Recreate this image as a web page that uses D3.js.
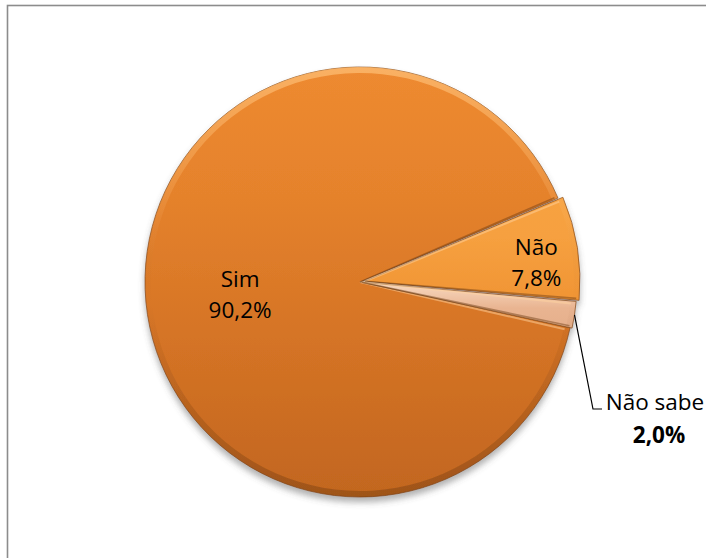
<!DOCTYPE html>
<html>
<head>
<meta charset="utf-8">
<script src="https://cdn.jsdelivr.net/npm/d3@7"></script>
<style>
  html, body { margin: 0; padding: 0; background: #ffffff; overflow: hidden; }
  svg { display: block; }
  text { font-family: "Open Sans", "Liberation Sans", sans-serif; fill: #000; }
</style>
</head>
<body>
<svg id="chart" width="706" height="558"></svg>
<script>
// Survey answers and their shares (percent)
const categories = ["Sim", "Não", "Não sabe"];
const values = [90.2, 7.8, 2.0];
const valueLabels = ["90,2%", "7,8%", "2,0%"];

const W = 706, H = 558;
const cx = 360, cy = 282, R = 215;
const firstSliceDeg = 102.3;          // where the first slice begins, clockwise from 12 o'clock
const explode = [0, 5, 2];            // outward pull of each slice, px

const svg = d3.select("#chart");
const defs = svg.append("defs");

// chart area frame
svg.append("rect")
  .attr("x", 7.5).attr("y", 5.5)
  .attr("width", W + 20).attr("height", H + 20)
  .attr("fill", "#ffffff")
  .attr("stroke", "#8c8c8c").attr("stroke-width", 1.6);

// soft shadow under the pie
const sh = defs.append("filter").attr("id", "pieShadow")
  .attr("x", "-10%").attr("y", "-10%").attr("width", "120%").attr("height", "125%");
sh.append("feDropShadow").attr("dx", 0).attr("dy", 5).attr("stdDeviation", 3)
  .attr("flood-color", "#555").attr("flood-opacity", 0.45);

// slice fills (gradient space is each slice's local frame, centred on the pie)
function vGrad(id, stops) {
  const g = defs.append("linearGradient").attr("id", id)
    .attr("gradientUnits", "userSpaceOnUse")
    .attr("x1", 0).attr("y1", -R).attr("x2", 0).attr("y2", R);
  stops.forEach(s => g.append("stop").attr("offset", s[0]).attr("stop-color", s[1])
    .attr("stop-opacity", s[2] === undefined ? 1 : s[2]));
}
vGrad("gSim", [[0, "#EE8A30"], [0.3, "#E5822C"], [0.65, "#D47325"], [1, "#C2661F"]]);
vGrad("gNao", [[0, "#F9A846"], [0.4, "#F6A03F"], [0.55, "#F09434"], [1, "#DD8028"]]);
vGrad("gNs", [[0, "#FFF0E2"], [0.5, "#F8DAC2"], [0.56, "#E9B491"], [1, "#C98A60"]]);
const fills = ["url(#gSim)", "url(#gNao)", "url(#gNs)"];

// rim bevel: light on top, dark at bottom
vGrad("gRim", [[0, "#FFC27A", 0.7], [0.35, "#FFC27A", 0.1], [0.55, "#6A3810", 0.0], [1, "#6A3810", 0.4]]);

const rad = d => d * Math.PI / 180;
const pie = d3.pie().sort(null).value(d => d)
  .startAngle(rad(firstSliceDeg)).endAngle(rad(firstSliceDeg) + 2 * Math.PI);
const arcs = pie(values);

const arc = d3.arc().innerRadius(0).outerRadius(R);
const rimArc = d3.arc().innerRadius(R - 6).outerRadius(R);

function offset(d, i) {
  const m = (d.startAngle + d.endAngle) / 2;
  return [Math.sin(m) * explode[i], -Math.cos(m) * explode[i]];
}

const pieG = svg.append("g").attr("filter", "url(#pieShadow)");
const slices = pieG.selectAll("g.slice").data(arcs).join("g")
  .attr("class", "slice")
  .attr("transform", (d, i) => {
    const o = offset(d, i);
    return `translate(${cx + o[0]},${cy + o[1]})`;
  });

slices.append("path")
  .attr("d", arc)
  .attr("fill", (d, i) => fills[i])
  .attr("stroke", "#8A4F1C").attr("stroke-opacity", 0.75)
  .attr("stroke-width", 1)
  .attr("stroke-linejoin", "round");

slices.append("path")
  .attr("d", rimArc)
  .attr("fill", "url(#gRim)")
  .attr("pointer-events", "none");

// light streak along the leading radial edge of each slice
slices.append("path")
  .attr("d", d => {
    const a = d.startAngle + 0.012;
    return `M0,0L${Math.sin(a) * (R - 5)},${-Math.cos(a) * (R - 5)}`;
  })
  .attr("stroke", "#FFD3A0").attr("stroke-opacity", 0.5)
  .attr("stroke-width", 2).attr("fill", "none");

// dark streak along the trailing radial edge of each slice
slices.append("path")
  .attr("d", d => {
    const a = d.endAngle - 0.008;
    return `M0,0L${Math.sin(a) * (R - 3)},${-Math.cos(a) * (R - 3)}`;
  })
  .attr("stroke", "#6A3A12").attr("stroke-opacity", 0.45)
  .attr("stroke-width", 1.6).attr("fill", "none");

// labels inside the two larger slices
const labelArc = [0.56, 0.84];
const labelNudge = [[0, 2], [-7, 10]];
const lblFont = 22.5;
[0, 1].forEach(i => {
  const d = arcs[i];
  const m = (d.startAngle + d.endAngle) / 2;
  const o = offset(d, i);
  const x = cx + o[0] + Math.sin(m) * R * labelArc[i] + labelNudge[i][0];
  const y = cy + o[1] - Math.cos(m) * R * labelArc[i] + labelNudge[i][1];
  const t = svg.append("text").attr("text-anchor", "middle")
    .attr("font-size", lblFont);
  t.append("tspan").attr("x", x).attr("y", y - 8).text(categories[i]);
  t.append("tspan").attr("x", x).attr("y", y + 23).text(valueLabels[i]);
});

// outside label with leader line for the smallest slice
{
  const i = 2, d = arcs[i];
  const m = (d.startAngle + d.endAngle) / 2;
  const o = offset(d, i);
  const px = cx + o[0] + Math.sin(m) * R;
  const py = cy + o[1] - Math.cos(m) * R;
  const lx = 655, ly = 418;           // label block anchor
  const elbowX = 593, elbowY = ly - 9;
  svg.append("path")
    .attr("d", `M${px},${py}L${elbowX},${elbowY}L${elbowX + 9},${elbowY}`)
    .attr("fill", "none").attr("stroke", "#000").attr("stroke-width", 1.2);
  const t = svg.append("text").attr("text-anchor", "middle").attr("font-size", lblFont);
  t.append("tspan").attr("x", lx).attr("y", ly - 8).text(categories[i]);
  t.append("tspan").attr("x", lx + 4).attr("y", ly + 25).attr("font-weight", "bold").text(valueLabels[i]);
}
</script>
</body>
</html>
